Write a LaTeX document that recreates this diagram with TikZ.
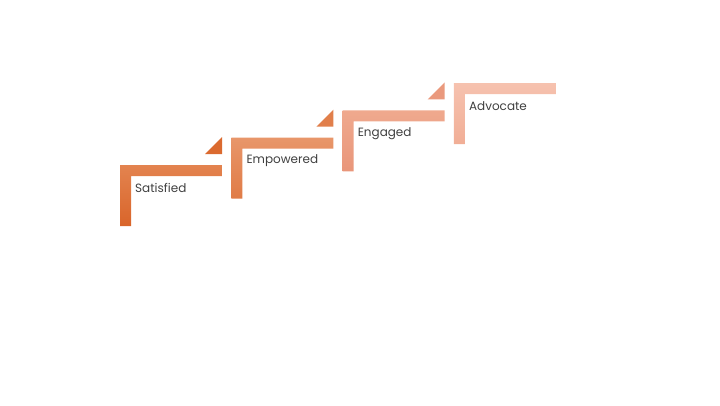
\documentclass[tikz,border=0pt]{standalone}
\usepackage{fontspec}
\setmainfont{Poppins}
\begin{document}
\begin{tikzpicture}[x=1pt,y=-1pt,lbl/.style={anchor=west,inner sep=0pt,font=\fontsize{12}{14}\selectfont,text=black!75}]
\useasboundingbox (0,0) rectangle (720,405);
\foreach \i/\ca/\cb/\t in {0/D9652A/E3834F/Satisfied,1/E07B46/E8966A/Empowered,2/E9967A/EFA98E/Engaged,3/F1AE96/F6C2AF/Advocate}{
  \pgfmathsetmacro{\x}{120+111.3*\i}
  \pgfmathsetmacro{\y}{165-27.3*\i}
  \definecolor{ca}{HTML}{\ca}\definecolor{cb}{HTML}{\cb}
  \shade[top color=cb,bottom color=ca] (\x,\y) -- ++(102,0) -- ++(0,11) -- ++(-91,0) -- ++(0,50) -- ++(-11,0) -- cycle;
  \node[lbl] (t\i) at (\x+15,\y+23) {\t};
  \ifnum\i<3
    \fill[ca!85!cb] (\x+85,\y-11) -- (\x+102,\y-11) -- (\x+102,\y-28) -- cycle;
  \fi
}
\end{tikzpicture}
\end{document}
